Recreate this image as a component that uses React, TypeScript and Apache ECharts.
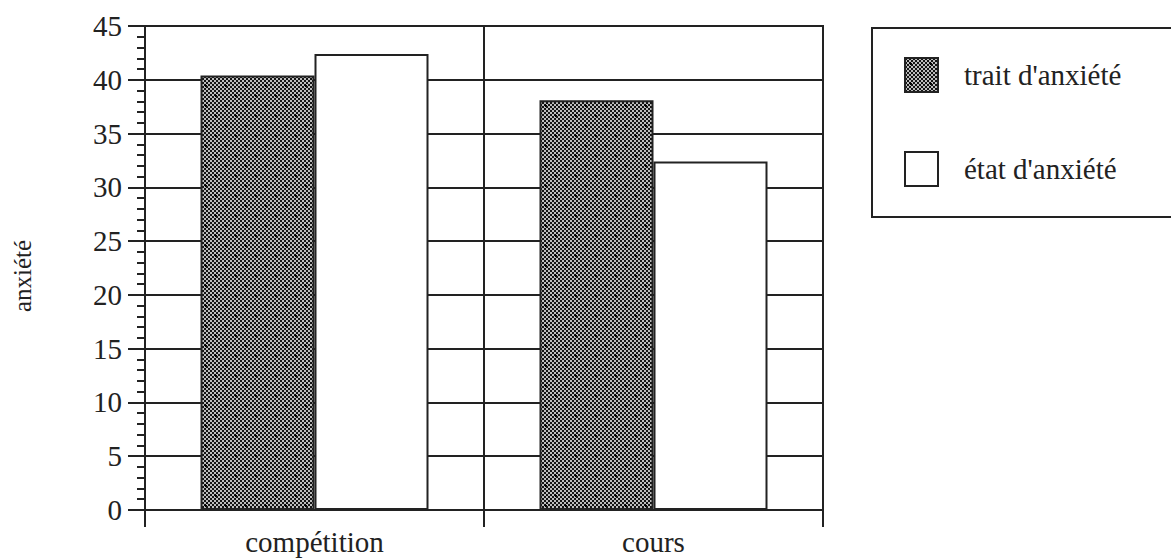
import React, { useEffect, useRef } from "react";
import * as echarts from "echarts";

const categories = ["compétition", "cours"];
const traitValues = [40.4, 38.1];
const etatValues = [42.4, 32.4];
const seriesNames = ["trait d'anxiété", "état d'anxiété"];
const yAxisName = "anxiété";

function makePattern(): HTMLCanvasElement {
  const c = document.createElement("canvas");
  c.width = 20;
  c.height = 20;
  const ctx = c.getContext("2d")!;
  for (let y = 0; y < 20; y += 2) {
    for (let x = 0; x < 20; x += 2) {
      const dark = ((x + y) / 2) % 2 === 0;
      ctx.fillStyle = dark ? "#141414" : "#bdbdbd";
      ctx.fillRect(x, y, 2, 2);
    }
  }
  ctx.fillStyle = "#000";
  const plus = (cx: number, cy: number) => {
    ctx.fillRect(cx - 1, cy, 3, 1);
    ctx.fillRect(cx, cy - 1, 1, 3);
  };
  plus(5, 5);
  plus(15, 15);
  return c;
}

export default function App() {
  const ref = useRef<HTMLDivElement>(null);
  useEffect(() => {
    document.body.style.margin = "0";
    const chart = echarts.init(ref.current!, null, { renderer: "svg" });
    const pattern = { image: makePattern(), repeat: "repeat" };
    const line = "#222";
    const font = "'Liberation Serif', 'Times New Roman', serif";
    chart.setOption({
      animation: false,
      backgroundColor: "#fff",
      grid: {
        left: 145,
        right: 348,
        top: 26,
        bottom: 50,
        show: true,
        borderColor: line,
        borderWidth: 2,
      },
      legend: {
        orient: "vertical",
        left: 872,
        top: 28,
        padding: [29, 200, 30, 32],
        borderColor: line,
        borderWidth: 2,
        itemWidth: 33,
        itemHeight: 34,
        itemGap: 58,
        icon: "rect",
        data: seriesNames,
        textStyle: {
          fontFamily: font,
          fontSize: 29,
          color: "#222",
          padding: [0, 0, 0, 21],
        },
      },
      xAxis: {
        type: "category",
        data: categories,
        axisLine: { lineStyle: { color: line, width: 2 } },
        axisTick: { show: true, length: 17, lineStyle: { color: line, width: 2 } },
        axisLabel: { fontFamily: font, fontSize: 29, color: "#222", margin: 17 },
        splitLine: { show: true, lineStyle: { color: line, width: 2 } },
      },
      yAxis: {
        type: "value",
        min: 0,
        max: 45,
        interval: 5,
        name: yAxisName,
        nameLocation: "middle",
        nameRotate: 90,
        nameGap: 110,
        nameTextStyle: { fontFamily: font, fontSize: 25, color: "#222", padding: [0, 16, 0, 0] },
        axisLine: { show: true, lineStyle: { color: line, width: 2 } },
        axisTick: { show: true, length: 17, lineStyle: { color: line, width: 2 } },
        minorTick: { show: true, splitNumber: 5, length: 8, lineStyle: { color: line, width: 2 } },
        axisLabel: { fontFamily: font, fontSize: 29, color: "#222", margin: 23 },
        splitLine: { show: true, lineStyle: { color: line, width: 2 } },
      },
      series: [
        {
          name: seriesNames[0],
          type: "bar",
          data: traitValues,
          barWidth: 114,
          barGap: "0%",
          itemStyle: { color: pattern, borderColor: line, borderWidth: 2 },
        },
        {
          name: seriesNames[1],
          type: "bar",
          data: etatValues,
          barWidth: 114,
          barGap: "0%",
          itemStyle: { color: "#fff", borderColor: line, borderWidth: 2 },
        },
      ],
    });
    return () => chart.dispose();
  }, []);
  return <div ref={ref} style={{ width: 1171, height: 560 }} />;
}
